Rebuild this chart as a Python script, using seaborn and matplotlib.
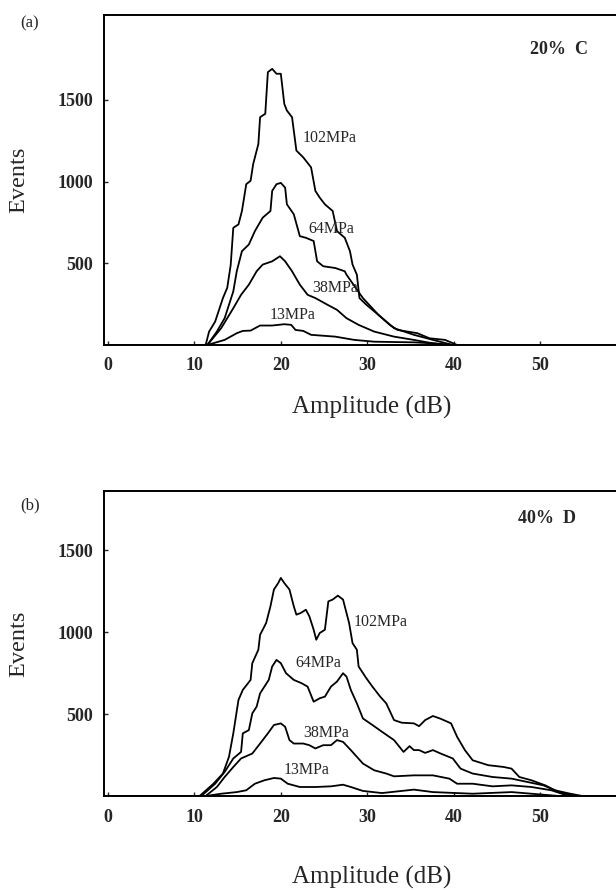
import numpy as np
import pandas as pd
import seaborn as sns
import matplotlib.pyplot as plt

# Panel (a): 20% C -- amplitude (dB) / events
a102_x = [0, 11.3, 11.7, 12.4, 13.3, 13.8, 14.2, 14.5, 15.1, 15.5, 16.0, 16.5, 16.8, 17.4, 17.6, 18.2, 18.5, 19.0, 19.5, 20.0, 20.4, 20.7, 21.3, 21.5, 21.8, 22.6, 23.5, 24.0, 24.5, 25.1, 26.0, 26.5, 27.4, 28.0, 28.3, 28.8, 29.1, 29.9, 31.3, 32.6, 33.5, 35.8, 37.2, 39.0, 40.4, 59]
a102_y = [0, 0, 82, 143, 287, 350, 490, 717, 738, 820, 984, 1005, 1107, 1230, 1394, 1415, 1670, 1690, 1660, 1660, 1476, 1435, 1394, 1312, 1190, 1148, 1087, 943, 902, 861, 820, 697, 656, 574, 492, 430, 287, 246, 184, 123, 92, 72, 41, 31, 0, 0]
a64_x = [0, 11.5, 12.6, 13.5, 14.5, 14.9, 15.5, 16.3, 17.0, 17.9, 18.8, 19.0, 19.5, 20.0, 20.5, 20.7, 21.5, 22.2, 22.9, 23.8, 24.2, 24.9, 26.3, 27.4, 27.6, 29.5, 31.3, 33.1, 35.4, 37.6, 39.9, 59]
a64_y = [0, 0, 82, 164, 328, 451, 574, 615, 697, 779, 820, 943, 984, 992, 963, 861, 800, 666, 656, 636, 512, 482, 471, 451, 430, 287, 184, 103, 62, 31, 0, 0]
a38_x = [0, 11.5, 13.1, 14.5, 15.4, 16.3, 17.2, 17.9, 19.0, 19.9, 20.5, 21.3, 22.2, 23.1, 24.0, 25.4, 26.5, 27.6, 29.0, 30.8, 33.1, 35.4, 37.6, 39.5, 59]
a38_y = [0, 0, 103, 225, 307, 369, 451, 492, 512, 543, 512, 451, 369, 307, 287, 246, 215, 164, 123, 82, 51, 31, 10, 0, 0]
a13_x = [0, 11.5, 13.5, 14.9, 15.6, 16.5, 17.6, 19.0, 20.4, 21.2, 21.7, 22.6, 23.5, 26.3, 28.5, 30.8, 35.4, 37.6, 39.9, 59]
a13_y = [0, 0, 31, 72, 86, 88, 119, 119, 127, 123, 92, 86, 62, 51, 31, 20, 16, 10, 0, 0]

# Panel (b): 40% D
b102_x = [0, 10.6, 12.2, 13.3, 14.0, 14.5, 15.1, 15.6, 16.5, 16.7, 17.4, 17.6, 18.3, 18.8, 19.2, 19.7, 20.0, 20.4, 21.0, 21.5, 21.8, 22.3, 22.9, 23.3, 23.8, 24.1, 24.5, 25.1, 25.5, 26.0, 26.6, 27.2, 27.9, 28.3, 28.8, 29.0, 29.9, 30.6, 31.5, 32.2, 33.1, 34.0, 35.4, 36.0, 36.7, 37.6, 38.5, 39.7, 40.4, 41.3, 42.2, 44.0, 45.8, 46.7, 47.6, 49.0, 50.6, 51.7, 53.5, 54.9, 59]
b102_y = [0, 0, 75, 137, 239, 382, 586, 647, 708, 810, 892, 983, 1055, 1157, 1259, 1299, 1330, 1299, 1259, 1157, 1106, 1116, 1136, 1096, 1014, 953, 994, 1014, 1187, 1198, 1222, 1198, 1055, 932, 892, 790, 718, 667, 606, 565, 463, 447, 443, 426, 463, 488, 471, 443, 361, 280, 218, 188, 177, 167, 116, 96, 65, 35, 14, 0, 0]
b64_x = [0, 10.8, 12.4, 13.5, 14.5, 15.4, 15.6, 16.3, 16.7, 17.2, 17.6, 18.6, 19.0, 19.5, 20.0, 20.6, 21.5, 22.4, 23.1, 23.8, 24.5, 25.1, 25.8, 26.5, 27.2, 27.6, 28.1, 28.8, 29.5, 30.6, 31.7, 33.1, 34.2, 34.9, 35.4, 36.0, 36.7, 37.6, 38.5, 39.9, 40.8, 42.2, 44.5, 46.7, 48.5, 50.4, 52.2, 54.0, 59]
b64_y = [0, 0, 75, 147, 229, 269, 382, 402, 504, 545, 626, 708, 790, 830, 810, 749, 708, 688, 667, 575, 596, 606, 667, 698, 749, 728, 647, 565, 473, 433, 392, 341, 269, 304, 280, 280, 263, 280, 259, 229, 167, 137, 116, 106, 86, 65, 24, 0, 0]
b38_x = [0, 11.3, 12.6, 13.5, 14.5, 15.4, 16.7, 17.6, 18.5, 19.2, 20.0, 20.5, 21.0, 21.5, 22.6, 23.3, 24.0, 24.9, 25.8, 26.5, 27.2, 28.1, 29.5, 30.8, 32.2, 33.1, 35.4, 37.6, 39.5, 40.4, 42.2, 44.5, 46.7, 49.0, 51.3, 53.1, 53.5, 59]
b38_y = [0, 0, 55, 116, 177, 229, 259, 320, 382, 433, 443, 422, 341, 320, 320, 310, 290, 310, 310, 341, 330, 280, 198, 157, 137, 120, 126, 126, 106, 75, 75, 59, 65, 55, 35, 4, 0, 0]
b13_x = [0, 11.3, 13.1, 14.9, 16.0, 17.0, 18.1, 19.2, 20.0, 20.8, 22.2, 24.0, 25.8, 27.2, 28.1, 29.5, 31.7, 35.4, 37.6, 42.2, 46.7, 49.0, 51.3, 52.2, 59]
b13_y = [0, 0, 14, 24, 35, 75, 96, 110, 106, 75, 55, 55, 59, 69, 55, 31, 18, 39, 24, 14, 24, 14, 4, 0, 0]

stress_labels = ['102MPa', '64MPa', '38MPa', '13MPa']
a_label_xy = [(25.7, 1268), (25.9, 707), (26.3, 347), (21.4, 183)]
b_label_xy = [(31.5, 1061), (24.3, 811), (25.3, 384), (23.0, 159)]

x_ticks = [0, 10, 20, 30, 40, 50]
y_ticks = [500, 1000, 1500]


def to_frame(series):
    parts = []
    for name, xs, ys in series:
        parts.append(pd.DataFrame({'amp': xs, 'events': ys, 'stress': name,
                                   'order': np.arange(len(xs))}))
    return pd.concat(parts, ignore_index=True)


df_a = to_frame([('102MPa', a102_x, a102_y), ('64MPa', a64_x, a64_y),
                 ('38MPa', a38_x, a38_y), ('13MPa', a13_x, a13_y)])
df_b = to_frame([('102MPa', b102_x, b102_y), ('64MPa', b64_x, b64_y),
                 ('38MPa', b38_x, b38_y), ('13MPa', b13_x, b13_y)])

sns.set_style('ticks')
plt.rcParams['font.family'] = ['Liberation Serif', 'DejaVu Serif']

fig = plt.figure(figsize=(6.16, 8.9), dpi=100)
ax_a = fig.add_axes([0.169, 0.6124, 0.834, 0.3708])
ax_b = fig.add_axes([0.169, 0.1056, 0.834, 0.3427])

panels = [(ax_a, df_a, a_label_xy, 2020, '20%  C', 52.2, 1811, '(a)', 23),
          (ax_b, df_b, b_label_xy, 1860, '40%  D', 50.8, 1695, '(b)', 505)]

for ax, df, lab_xy, ymax, tag, tag_x, tag_y, letter, letter_y in panels:
    sns.lineplot(data=df, x='amp', y='events', hue='stress', units='stress',
                 estimator=None, sort=False, palette=['black'] * 4,
                 linewidth=1.3, legend=False, ax=ax)
    ax.set_xlim(-0.45, 59)
    ax.set_ylim(0, ymax)
    ax.set_xticks(x_ticks)
    ax.set_yticks(y_ticks)
    ax.tick_params(direction='in', length=3, width=1, labelsize=13, pad=9)
    ax.tick_params(axis='y', pad=8)
    for t in ax.get_xticklabels() + ax.get_yticklabels():
        t.set_fontweight('bold')
    for s in ax.spines.values():
        s.set_linewidth(1.4)
        s.set_color('black')
    ax.set_ylabel('Events', fontsize=17.5)
    ax.yaxis.set_label_coords(-0.145, 0.5)
    ax.set_xlabel('Amplitude (dB)', fontsize=18)
    for name, (lx, ly) in zip(stress_labels, lab_xy):
        ax.text(lx, ly, name, fontsize=11.5, ha='center', va='center')
    ax.text(tag_x, tag_y, tag, fontsize=13, fontweight='bold',
            ha='center', va='center')
    fig.text(20 / 616, 1 - letter_y / 890, letter, fontsize=12,
             ha='left', va='center')

ax_a.xaxis.set_label_coords(0.52, -0.155)
ax_b.xaxis.set_label_coords(0.52, -0.23)

fig.savefig('out.png', dpi=100)
